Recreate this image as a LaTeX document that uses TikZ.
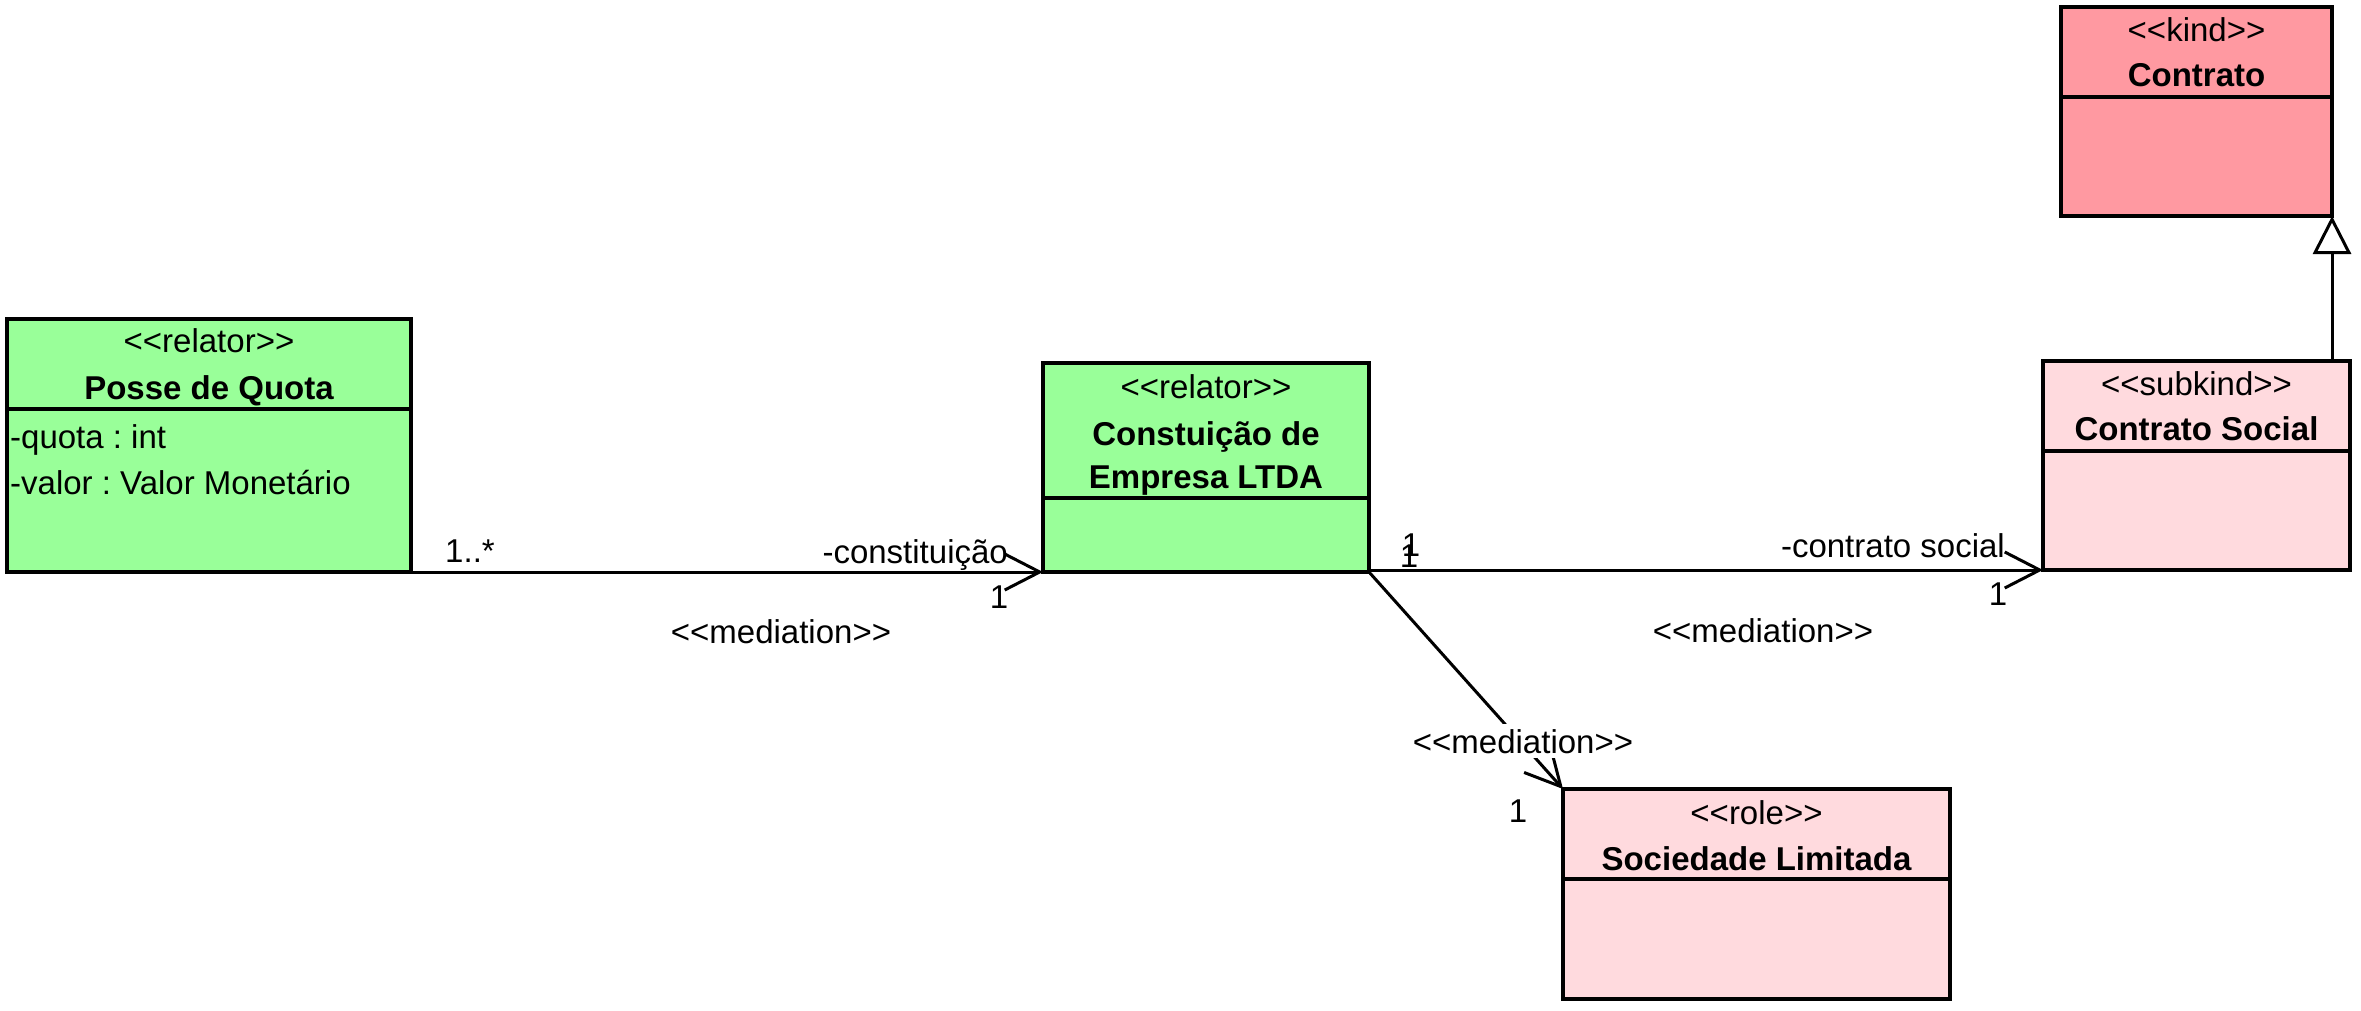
\documentclass[tikz,border=0pt]{standalone}
\usepackage{fontspec}
\setmainfont{Liberation Sans}[Ligatures=TeXOff]
\usetikzlibrary{arrows.meta,calc}
\definecolor{relgreen}{RGB}{153,255,153}
\definecolor{lightpink}{RGB}{255,218,222}
\definecolor{kindpink}{RGB}{255,153,161}
\frenchspacing
\begin{document}
\begin{tikzpicture}[x=1pt,y=-1pt,
  classbox/.style={draw=black, line width=3.4pt, rectangle, anchor=north west, inner sep=0pt, outer sep=0pt},
  txt/.style={inner sep=0pt, anchor=base, font=\fontsize{33}{38}\selectfont},
  bold/.style={txt, font=\fontsize{33}{38}\selectfont\bfseries},
  attr/.style={txt, anchor=base west},
  sepline/.style={line width=3.4pt},
  lbl/.style={inner sep=0pt, font=\fontsize{33}{38}\selectfont},
  assoc/.style={line width=3pt, -{Straight Barb[length=35pt,width=36pt,line width=3pt]}},
  gen/.style={line width=3pt, -{Triangle[length=38pt,width=38pt,fill=white,line width=3pt]}}]
\useasboundingbox (0,0) rectangle (2361,1011);
\fill[white] (0,0) rectangle (2361,1011);

% Posse de Quota
\node[classbox, fill=relgreen, minimum width=404pt, minimum height=253pt] (PQ) at (7,319) {};
\draw[sepline] ($(PQ.north west)+(0,90)$) -- ($(PQ.north east)+(0,90)$);
\node[txt] (PQs) at ($(PQ.north)+(0,33)$) {<<relator>>};
\node[bold] (PQn) at ($(PQ.north)+(0,80)$) {Posse de Quota};
\node[attr] (PQa1) at (10,448) {-quota : int};
\node[attr] (PQa2) at (10,494) {-valor : Valor Monetário};

% Constuicao de Empresa LTDA
\node[classbox, fill=relgreen, minimum width=326pt, minimum height=209pt] (CE) at (1043,363) {};
\draw[sepline] ($(CE.north west)+(0,135)$) -- ($(CE.north east)+(0,135)$);
\node[txt] (CEs) at ($(CE.north)+(0,35)$) {<<relator>>};
\node[bold] (CEn1) at ($(CE.north)+(0,82)$) {Constuição de};
\node[bold] (CEn2) at ($(CE.north)+(0,125)$) {Empresa LTDA};

% Contrato
\node[classbox, fill=kindpink, minimum width=271pt, minimum height=209pt] (CT) at (2061,7) {};
\draw[sepline] ($(CT.north west)+(0,90)$) -- ($(CT.north east)+(0,90)$);
\node[txt] (CTs) at ($(CT.north)+(0,35)$) {<<kind>>};
\node[bold] (CTn) at ($(CT.north)+(0,80)$) {Contrato};

% Contrato Social
\node[classbox, fill=lightpink, minimum width=307pt, minimum height=209pt] (CS) at (2043,361) {};
\draw[sepline] ($(CS.north west)+(0,90)$) -- ($(CS.north east)+(0,90)$);
\node[txt] (CSs) at ($(CS.north)+(0,34)$) {<<subkind>>};
\node[bold] (CSn) at ($(CS.north)+(0,79)$) {Contrato Social};

% Sociedade Limitada
\node[classbox, fill=lightpink, minimum width=387pt, minimum height=210pt] (SL) at (1563,789) {};
\draw[sepline] ($(SL.north west)+(0,90)$) -- ($(SL.north east)+(0,90)$);
\node[txt] (SLs) at ($(SL.north)+(0,35)$) {<<role>>};
\node[bold] (SLn) at ($(SL.north)+(0,81)$) {Sociedade Limitada};

% connectors
\draw[assoc] (PQ.south east) -- (CE.south west);
\draw[assoc] (CE.south east |- CS.south west) -- (CS.south west);
\draw[assoc] (CE.south east) -- (SL.north west);
\draw[gen] (CS.north -| CT.south east) -- (CT.south east);

% labels
\node[lbl, anchor=base] (m1) at (470,562) {1..*};
\node[lbl, anchor=base east] (r1) at (1008,563) {-constituição};
\node[lbl, anchor=base] (c1) at (999,608) {1};
\node[lbl, anchor=base] (st1) at (781,643) {<<mediation>>};
\node[lbl, anchor=base] (m2a) at (1411,556) {1};
\node[lbl, anchor=base] (m2b) at (1409,567) {1};
\node[lbl, anchor=base east] (r2) at (2005,557) {-contrato social};
\node[lbl, anchor=base] (c2) at (1998,605) {1};
\node[lbl, anchor=base] (st2) at (1763,642) {<<mediation>>};
\node[lbl, fill=white, inner xsep=2pt, inner ysep=5pt, anchor=base] (st3) at (1523,753) {<<mediation>>};
\node[lbl, anchor=base] (c3) at (1518,822) {1};
\end{tikzpicture}
\end{document}
